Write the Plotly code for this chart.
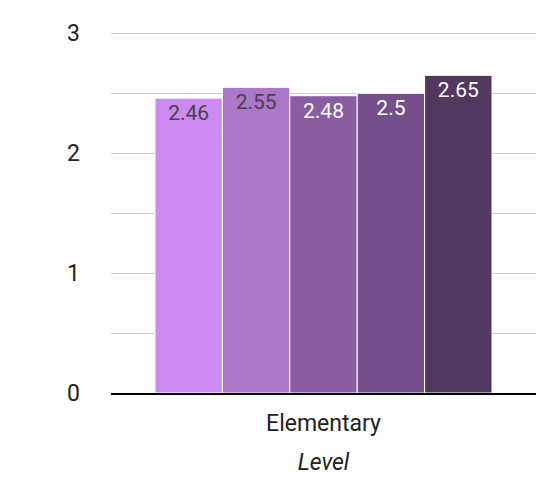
import plotly.graph_objects as go

categories = ["Elementary"]
series_names = ["S1", "S2", "S3", "S4", "S5"]
series_values = [[2.46], [2.55], [2.48], [2.5], [2.65]]
series_labels = ["2.46", "2.55", "2.48", "2.5", "2.65"]
colors = ["#cc8af2", "#ad77c9", "#8a5ca2", "#744f8b", "#52375f"]
label_colors = ["#444444", "#444444", "#ffffff", "#ffffff", "#ffffff"]
y_ticks = [0, 1, 2, 3]

fig = go.Figure()
for name, vals, lab, col, lc in zip(series_names, series_values, series_labels, colors, label_colors):
    fig.add_trace(go.Bar(
        x=categories, y=vals, name=name,
        marker=dict(color=col, line=dict(color="white", width=1)),
        text=[lab], textposition="inside", insidetextanchor="end",
        textangle=0, textfont=dict(color=lc, size=21, family="Roboto"),
        hoverinfo="skip",
    ))

fig.update_layout(
    width=541, height=485,
    margin=dict(l=103, r=13, t=20, b=100),
    paper_bgcolor="white", plot_bgcolor="white",
    font=dict(family="Roboto", size=23, color="#222222"),
    barmode="group", bargap=0.207, bargroupgap=0,
    showlegend=False,
    uniformtext=dict(mode=False),
)
fig.update_xaxes(
    showgrid=False, showline=True, linecolor="black", linewidth=2,
    ticks="", tickfont=dict(size=23, color="#222222"), ticklabelstandoff=8,
    title=dict(text="<i>Level</i>", font=dict(size=23, color="#222222"), standoff=18),
)
fig.update_yaxes(
    range=[0, 3.02], tickvals=y_ticks, showgrid=True, gridcolor="#cccccc", gridwidth=1,
    minor=dict(dtick=0.5, showgrid=True, gridcolor="#cccccc", gridwidth=1),
    zeroline=False, showline=False, ticks="",
    tickfont=dict(size=23, color="#222222"), ticklabelstandoff=30,
)

fig.write_html("out.html")
